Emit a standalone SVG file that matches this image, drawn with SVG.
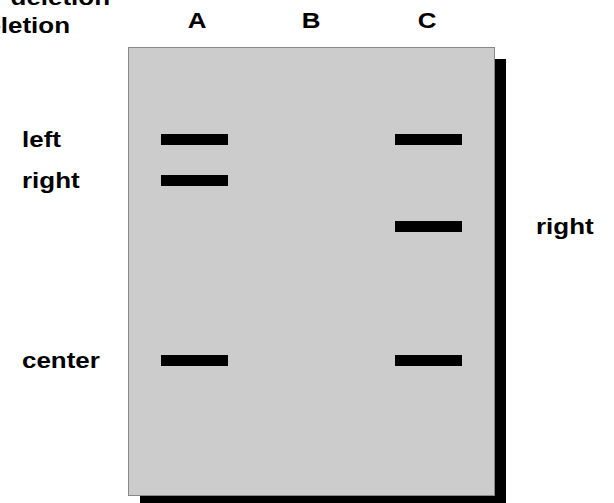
<svg xmlns="http://www.w3.org/2000/svg" width="614" height="503" viewBox="0 0 614 503">
<style>
.t{font-family:"Liberation Sans",Arial,sans-serif;font-weight:bold;font-size:22px;fill:#000}
.band{fill:#000}
</style>
<rect width="614" height="503" fill="#fff"/>
<g id="header">
<text class="t" transform="translate(110,5) scale(1.18,1)" text-anchor="end">deletion</text>
<text class="t" transform="translate(70,33) scale(1.18,1)" text-anchor="end">deletion</text>
<text class="t" transform="translate(197,28) scale(1.18,1)" text-anchor="middle">A</text>
<text class="t" transform="translate(311,28) scale(1.18,1)" text-anchor="middle">B</text>
<text class="t" transform="translate(427,28) scale(1.18,1)" text-anchor="middle">C</text>
</g>
<g id="gel">
<rect x="140" y="59" width="366" height="448" fill="#000"/>
<rect x="128.5" y="47.5" width="366" height="448" fill="#cccccc" stroke="#888" stroke-width="1"/>
</g>
<g id="bands">
<rect class="band" x="161" y="134" width="67" height="11"/>
<rect class="band" x="161" y="175" width="67" height="11"/>
<rect class="band" x="161" y="355" width="67" height="11"/>
<rect class="band" x="395" y="134" width="67" height="11"/>
<rect class="band" x="395" y="221" width="67" height="11"/>
<rect class="band" x="395" y="355" width="67" height="11"/>
</g>
<g id="labels">
<text class="t" transform="translate(22,147) scale(1.18,1)">left</text>
<text class="t" transform="translate(22,188) scale(1.18,1)">right</text>
<text class="t" transform="translate(22,368) scale(1.18,1)">center</text>
<text class="t" transform="translate(536,234) scale(1.18,1)">right</text>
</g>
</svg>
